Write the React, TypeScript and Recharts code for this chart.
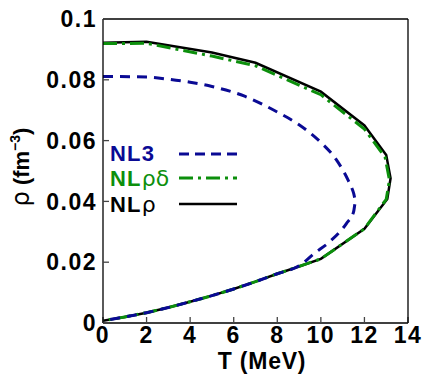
import { LineChart, Line, XAxis, YAxis, Legend } from 'recharts'

// temperature (MeV) and density (fm^-3), traced around each spinodal curve
const nlRhoT = [0, 2, 5, 7, 10, 12, 13, 13.2, 13.05, 12, 10, 9, 8, 7, 6, 5, 4, 3, 2, 1, 0]
const nlRhoRho = [
  0.0922, 0.0925, 0.089, 0.0856, 0.0761, 0.065, 0.0553, 0.0476, 0.0408, 0.031, 0.0211,
  0.0186, 0.0162, 0.0136, 0.0112, 0.009, 0.007, 0.0051, 0.0034, 0.002, 0.0007,
]

const nlRhoDeltaT = [0, 2, 5, 7, 10, 12, 12.95, 13.15, 13.0, 12, 10, 9, 8, 7, 6, 5, 4, 3, 2, 1, 0]
const nlRhoDeltaRho = [
  0.0919, 0.092, 0.0878, 0.0846, 0.0751, 0.0638, 0.0545, 0.047, 0.0407, 0.031, 0.0211,
  0.0186, 0.0162, 0.0136, 0.0112, 0.009, 0.007, 0.0051, 0.0034, 0.002, 0.0007,
]

const nl3T = [
  0, 2, 3, 4, 5, 6.5, 8, 9, 10, 10.7, 11.25, 11.5, 11.6, 11.5, 11.18, 10.4, 9.7, 9, 8, 7, 6, 5,
  4, 3, 2, 1, 0,
]
const nl3Rho = [
  0.0811, 0.0809, 0.0802, 0.0792, 0.0778, 0.0746, 0.0694, 0.0652, 0.0594, 0.0538, 0.047,
  0.0428, 0.0402, 0.0365, 0.0328, 0.0267, 0.0229, 0.0188, 0.0162, 0.0136, 0.0112, 0.009,
  0.007, 0.0051, 0.0034, 0.002, 0.0007,
]

const xTicks = [0, 2, 4, 6, 8, 10, 12, 14]
const yTicks = [0, 0.02, 0.04, 0.06, 0.08, 0.1]

const toPoints = (t: number[], rho: number[]) => t.map((T, i) => ({ T, rho: rho[i] }))

const FONT = '"Liberation Sans", Arial, sans-serif'
const GREEK = '"DejaVu Sans", sans-serif'
const BLUE = '#0a0a94'
const GREEN = '#0c8f0c'
const BLACK = '#000000'

const tickStyle = { fontFamily: FONT, fontSize: 23, fontWeight: 'bold', fill: '#000', letterSpacing: 1.5 }

function YLabel() {
  return (
    <text
      x={29}
      y={167}
      transform="rotate(-90 29 167)"
      textAnchor="middle"
      fontFamily={FONT}
      fill="#000"
    >
      <tspan fontFamily={GREEK} fontSize={24}>ρ</tspan>
      <tspan fontSize={22} fontWeight="bold"> (fm</tspan>
      <tspan fontSize={14} fontWeight="bold" dy={-9}>−3</tspan>
      <tspan fontSize={22} fontWeight="bold" dy={9}>)</tspan>
    </text>
  )
}

function XLabel() {
  return (
    <text
      x={262}
      y={369}
      textAnchor="middle"
      fontFamily={FONT}
      fontSize={23}
      fontWeight="bold"
      letterSpacing={0.8}
      fill="#000"
    >
      T (MeV)
    </text>
  )
}

const legendRows = [
  { prefix: 'NL', rest: '3', greek: '', color: BLUE, dash: '10 6', width: 3 },
  { prefix: 'NL', rest: '', greek: 'ρδ', color: GREEN, dash: '14 5 3 5', width: 3 },
  { prefix: 'NL', rest: '', greek: 'ρ', color: BLACK, dash: undefined, width: 2.5 },
]

function LegendBox() {
  const baselines = [23, 48, 74]
  const lineY = [16, 40, 66]
  return (
    <svg width={140} height={85}>
      {legendRows.map((r, i) => (
        <g key={i}>
          <text x={5} y={baselines[i]} fill={r.color}>
            <tspan fontFamily={FONT} fontSize={22} fontWeight="bold" letterSpacing={1.2}>
              {r.prefix + r.rest}
            </tspan>
            {r.greek && (
              <tspan fontFamily={GREEK} fontSize={22}>
                {r.greek}
              </tspan>
            )}
          </text>
          <line
            x1={74}
            x2={132}
            y1={lineY[i]}
            y2={lineY[i]}
            stroke={r.color}
            strokeWidth={r.width}
            strokeDasharray={r.dash}
          />
        </g>
      ))}
    </svg>
  )
}

export default function App() {
  return (
    <div style={{ position: 'absolute', left: 0, top: 0, background: '#fff' }}>
      <LineChart width={426} height={381} margin={{ top: 18, right: 17, bottom: 0, left: 0 }}>
        <XAxis
          dataKey="T"
          type="number"
          domain={[0, 14]}
          ticks={xTicks}
          allowDataOverflow
          height={58}
          tickSize={-6}
          tickMargin={10}
          tick={tickStyle}
          stroke="#000"
          strokeWidth={1.3}
          tickLine={{ stroke: '#444' }}
          label={<XLabel />}
        />
        <XAxis
          xAxisId="top"
          orientation="top"
          type="number"
          domain={[0, 14]}
          ticks={xTicks}
          allowDataOverflow
          height={1}
          tickSize={-6}
          tick={false}
          stroke="#000"
          strokeWidth={1.3}
          tickLine={{ stroke: '#444' }}
        />
        <YAxis
          dataKey="rho"
          type="number"
          domain={[0, 0.1]}
          ticks={yTicks}
          allowDataOverflow
          width={103}
          tickSize={-6}
          tickMargin={12}
          tick={tickStyle}
          stroke="#000"
          strokeWidth={1.3}
          tickLine={{ stroke: '#444' }}
          label={<YLabel />}
        />
        <YAxis
          yAxisId="right"
          orientation="right"
          type="number"
          domain={[0, 0.1]}
          ticks={yTicks}
          allowDataOverflow
          width={1}
          tickSize={-6}
          tick={false}
          stroke="#000"
          strokeWidth={1.3}
          tickLine={{ stroke: '#444' }}
        />
        <Legend
          content={<LegendBox />}
          verticalAlign="middle"
          align="center"
          layout="horizontal"
          wrapperStyle={{ left: 105, top: 138, width: 140, height: 85 }}
        />
        <Line
          data={toPoints(nlRhoT, nlRhoRho)}
          dataKey="rho"
          name="NLρ"
          type="linear"
          stroke={BLACK}
          strokeWidth={2.5}
          dot={false}
          isAnimationActive={false}
        />
        <Line
          data={toPoints(nlRhoDeltaT, nlRhoDeltaRho)}
          dataKey="rho"
          name="NLρδ"
          type="linear"
          stroke={GREEN}
          strokeWidth={3}
          strokeDasharray="14 5 3 5"
          dot={false}
          isAnimationActive={false}
        />
        <Line
          data={toPoints(nl3T, nl3Rho)}
          dataKey="rho"
          name="NL3"
          type="monotone"
          stroke={BLUE}
          strokeWidth={3}
          strokeDasharray="10 7"
          dot={false}
          isAnimationActive={false}
        />
      </LineChart>
    </div>
  )
}
